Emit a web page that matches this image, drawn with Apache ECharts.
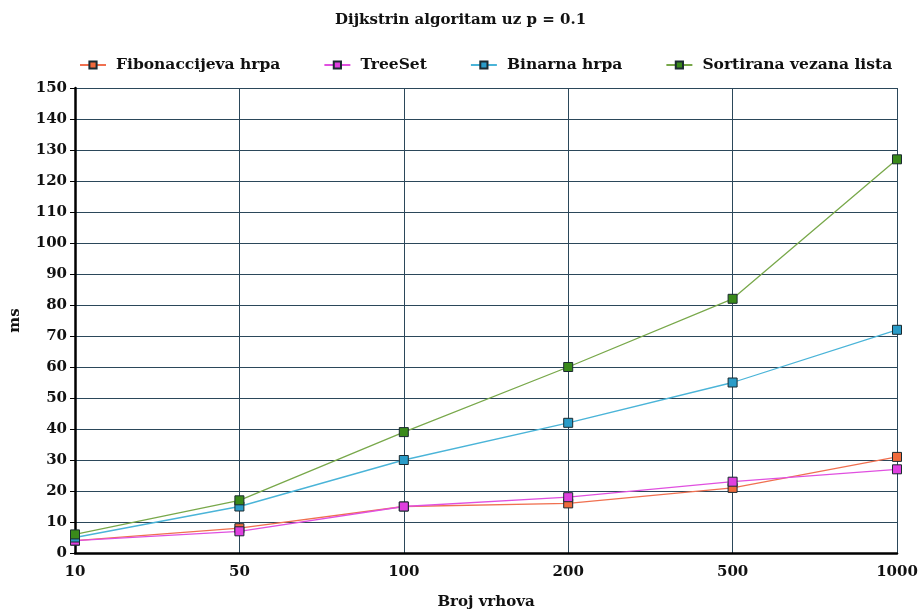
<!DOCTYPE html>
<html><head><meta charset="utf-8">
<script src="https://cdn.jsdelivr.net/npm/echarts@6/dist/echarts.min.js"></script>
<style>html,body{margin:0;padding:0;background:#fff}#c{width:921px;height:615px}</style>
</head><body><div id="c"></div>
<script>
const categories = ['10','50','100','200','500','1000'];
const fibonacci = [4, 8, 15, 16, 21, 31];
const treeSet = [4, 7, 15, 18, 23, 27];
const binarna = [5, 15, 30, 42, 55, 72];
const sortirana = [6, 17, 39, 60, 82, 127];

const font = 'DejaVu Serif';
function mk(name, data, lineColor, fill) {
  return {
    name, type: 'line', data,
    symbol: 'rect', symbolSize: 9,
    lineStyle: { color: lineColor, width: 1.3 },
    itemStyle: { color: fill, borderColor: '#1a2a30', borderWidth: 1 },
    emphasis: { disabled: true }, animation: false
  };
}
const chart = echarts.init(document.getElementById('c'));
chart.setOption({
  backgroundColor: '#fff',
  animation: false,
  title: { text: 'Dijkstrin algoritam uz p = 0.1', left: 'center', top: 8,
    textStyle: { fontFamily: font, fontWeight: 'bold', fontSize: 15, color: '#111' } },
  legend: { top: 52, left: 74, itemGap: 43, itemWidth: 26, itemHeight: 9,
    textStyle: { fontFamily: font, fontWeight: 'bold', fontSize: 15.5, color: '#111', padding: [0, 0, 0, 5] },
    data: ['Fibonaccijeva hrpa','TreeSet','Binarna hrpa','Sortirana vezana lista'] },
  grid: { left: 72, right: 24, top: 88, bottom: 62 },
  xAxis: { type: 'category', data: categories, boundaryGap: false,
    name: 'Broj vrhova', nameLocation: 'middle', nameGap: 42,
    nameTextStyle: { fontFamily: font, fontWeight: 'bold', fontSize: 15, color: '#111' },
    axisLine: { lineStyle: { color: '#000', width: 2.5 } },
    axisTick: { show: false },
    axisLabel: { fontFamily: font, fontWeight: 'bold', fontSize: 15, color: '#111', margin: 12 },
    splitLine: { show: true, lineStyle: { color: '#2b475a', width: 1 } } },
  yAxis: { type: 'value', min: 0, max: 150, interval: 10,
    name: 'ms', nameLocation: 'middle', nameGap: 52,
    nameTextStyle: { fontFamily: font, fontWeight: 'bold', fontSize: 15, color: '#111' },
    axisLine: { show: true, lineStyle: { color: '#000', width: 2.5 } },
    axisTick: { show: true, length: 5, lineStyle: { color: '#000' } },
    axisLabel: { fontFamily: font, fontWeight: 'bold', fontSize: 15, color: '#111', margin: 8 },
    splitLine: { show: true, lineStyle: { color: '#2b475a', width: 1 } } },
  series: [
    mk('Fibonaccijeva hrpa', fibonacci, '#f07050', '#f06a3c'),
    mk('TreeSet', treeSet, '#e050e0', '#e040e0'),
    mk('Binarna hrpa', binarna, '#4ab4d8', '#2a9cc8'),
    mk('Sortirana vezana lista', sortirana, '#78a84a', '#3a8a1a')
  ]
});
</script></body></html>
